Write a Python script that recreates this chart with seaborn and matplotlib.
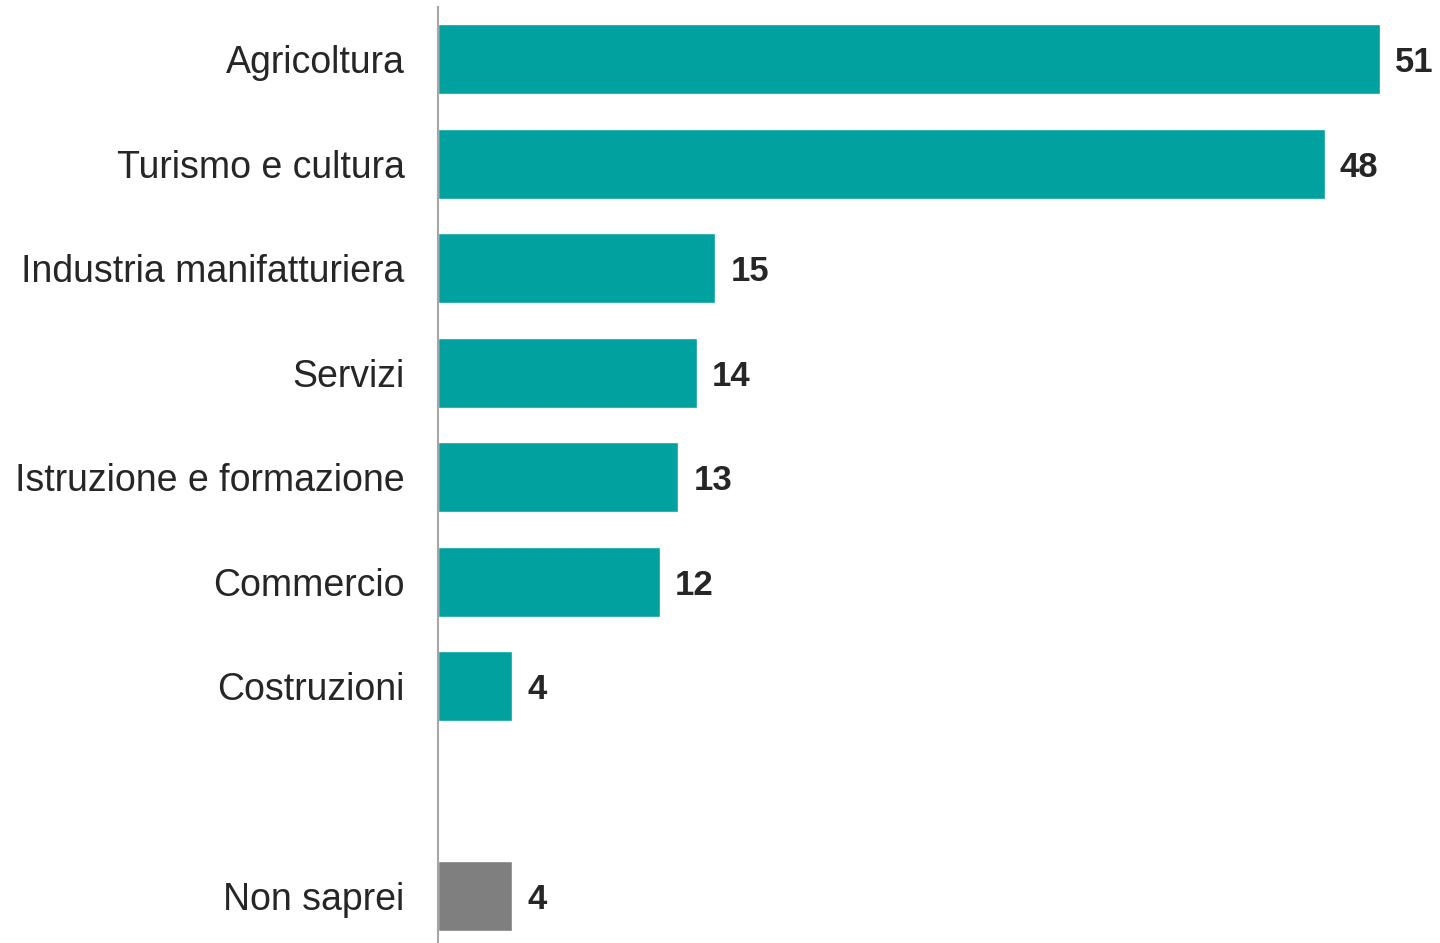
import matplotlib
matplotlib.use("Agg")
import matplotlib.pyplot as plt
import seaborn as sns
import pandas as pd

# dati
categorie = ["Agricoltura", "Turismo e cultura", "Industria manifatturiera", "Servizi",
             "Istruzione e formazione", "Commercio", "Costruzioni", "Non saprei"]
valori = [51, 48, 15, 14, 13, 12, 4, 4]
gruppi = ["settore"] * 7 + ["ns"]
ordine = categorie[:7] + [" "] + ["Non saprei"]  # riga vuota prima di "Non saprei"

sns.set_theme(style="white")
plt.rcParams['font.family'] = ['Liberation Sans', 'DejaVu Sans']

df = pd.DataFrame({"cat": categorie, "val": valori, "gruppo": gruppi})

fig = plt.figure(figsize=(14.4, 9.43), dpi=100)
ax = fig.add_axes([438 / 1440, 0, 1 - 438 / 1440, 1])

sns.barplot(data=df, y="cat", x="val", hue="gruppo", order=ordine,
            palette={"settore": "#00A19F", "ns": "#7F7F7F"},
            width=0.67, dodge=False, legend=False, saturation=1, ax=ax)

# etichette dei valori
for cont in ax.containers:
    for t in ax.bar_label(cont, fmt="%d", padding=11, fontsize=25,
                          fontweight="bold", color="#262626"):
        t.set_va("center_baseline")

ax.set_xlim(0, 54.25)
ax.set_ylim(8.454, -0.565)
ax.set_xlabel("")
ax.set_ylabel("")
ax.set_xticks([])
ax.tick_params(axis="y", length=0, pad=24, labelsize=27, labelcolor="#262626")
for s in ["top", "right", "bottom"]:
    ax.spines[s].set_visible(False)
ax.spines["left"].set_color("#A6A6A6")
ax.spines["left"].set_linewidth(1.5)
ax.spines["left"].set_bounds(8.454, -0.5)

fig.savefig("out.png", dpi=100)
